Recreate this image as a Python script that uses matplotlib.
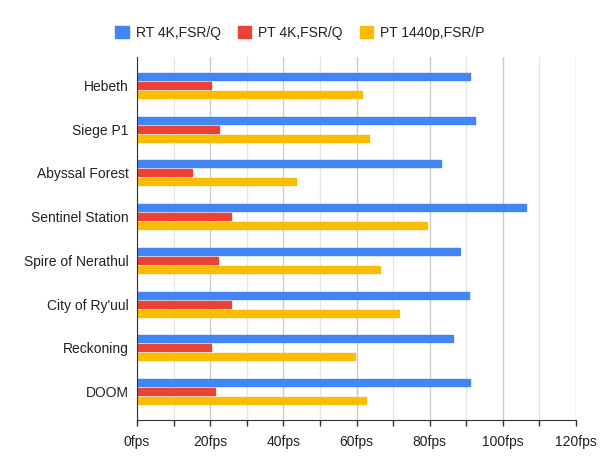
import matplotlib
matplotlib.use("Agg")
import matplotlib.pyplot as plt
import numpy as np

categories = ["Hebeth", "Siege P1", "Abyssal Forest", "Sentinel Station",
              "Spire of Nerathul", "City of Ry'uul", "Reckoning", "DOOM"]
series_names = ["RT 4K,FSR/Q", "PT 4K,FSR/Q", "PT 1440p,FSR/P"]
rt_4k = [91.1, 92.5, 83.2, 106.4, 88.4, 90.8, 86.5, 91.1]
pt_4k = [20.2, 22.4, 15.0, 25.6, 22.1, 25.6, 20.2, 21.3]
pt_1440 = [61.6, 63.3, 43.4, 79.4, 66.5, 71.7, 59.7, 62.7]
colors = ["#4285F4", "#EA4335", "#FBBC04"]
x_ticks = [0, 20, 40, 60, 80, 100, 120]
x_tick_labels = ["0fps", "20fps", "40fps", "60fps", "80fps", "100fps", "120fps"]

plt.rcParams['font.family'] = ['Liberation Sans', 'DejaVu Sans']

fig = plt.figure(figsize=(6.0, 4.73), dpi=100)
ax = fig.add_axes([137/600, 1-420/473, (576-137)/600, (420-57)/473])

y = np.arange(len(categories))
h = 0.16
step = 0.206
for i, (vals, name, c) in enumerate(zip([rt_4k, pt_4k, pt_1440], series_names, colors)):
    ax.barh(y + (i-1)*step, vals, height=h, color=c, label=name,
            edgecolor=c, linewidth=1.0, joinstyle='round', zorder=3)

ax.set_ylim(7.65, -0.65)
ax.set_xlim(0, 120)
ax.set_yticks(y)
ax.set_yticklabels(categories, fontsize=10, color="#222222")
ax.tick_params(axis='y', length=0, pad=6)
ax.set_xticks(x_ticks)
ax.set_xticklabels(x_tick_labels, fontsize=10, color="#222222")
ax.set_xticks(np.arange(10, 120, 20), minor=True)
ax.tick_params(axis='x', which='both', length=4, width=1, color="#333333", pad=7)
ax.grid(axis='x', which='major', color="#cccccc", linewidth=1, zorder=0)
ax.grid(axis='x', which='minor', color="#e6e6e6", linewidth=1, zorder=0)

for s in ['top', 'right']:
    ax.spines[s].set_visible(False)
ax.spines['left'].set_color("#333333")
ax.spines['bottom'].set_color("#333333")
ax.spines['left'].set_zorder(4)

leg = fig.legend(*ax.get_legend_handles_labels(), loc='center', bbox_to_anchor=(0.5, 1-33/473),
                 ncol=3, frameon=False, fontsize=10, handlelength=1.0, handleheight=1.0,
                 handletextpad=0.5, columnspacing=1.2)
for t in leg.get_texts():
    t.set_color("#222222")

fig.savefig("out.png", dpi=100)
